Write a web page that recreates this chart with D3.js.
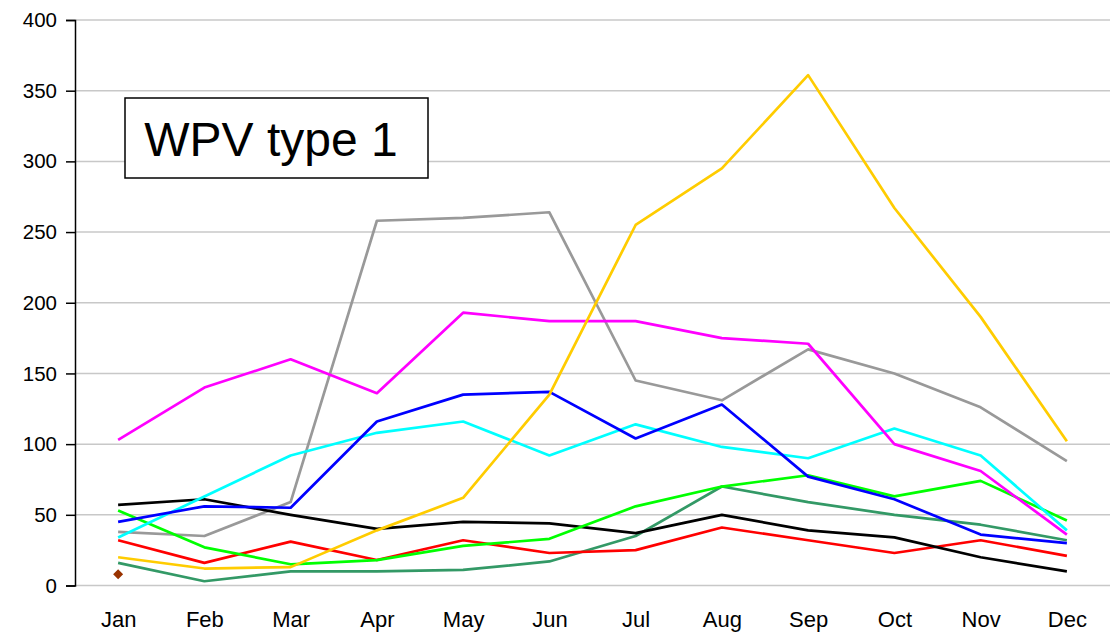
<!DOCTYPE html>
<html>
<head>
<meta charset="utf-8">
<script src="https://cdn.jsdelivr.net/npm/d3@7"></script>
<style>
  html, body { margin: 0; padding: 0; background: #fff; }
  #chart { width: 1110px; height: 634px; }
  text { font-family: "Liberation Sans", Arial, sans-serif; }
</style>
</head>
<body>
<div id="chart"></div>
<script>
// --- Data ---
const months = ['Jan', 'Feb', 'Mar', 'Apr', 'May', 'Jun', 'Jul', 'Aug', 'Sep', 'Oct', 'Nov', 'Dec'];
const yTicks = [0, 50, 100, 150, 200, 250, 300, 350, 400];

const magenta   = [103, 140, 160, 136, 193, 187, 187, 175, 171, 100, 81, 36];
const yellow    = [20, 12, 13, 39, 62, 135, 255, 295, 361, 267, 190, 102];
const gray      = [38, 35, 59, 258, 260, 264, 145, 131, 167, 150, 126, 88];
const blue      = [45, 56, 55, 116, 135, 137, 104, 128, 77, 61, 36, 30];
const cyan      = [34, 63, 92, 108, 116, 92, 114, 98, 90, 111, 92, 39];
const green     = [53, 27, 15, 18, 28, 33, 56, 70, 78, 63, 74, 46];
const darkGreen = [16, 3, 10, 10, 11, 17, 35, 70, 59, 50, 43, 32];
const black     = [57, 61, 50, 40, 45, 44, 37, 50, 39, 34, 20, 10];
const red       = [32, 16, 31, 18, 32, 23, 25, 41, 32, 23, 32, 21];
const brownPoints = [{ month: 'Jan', value: 8 }];

const series = [
    { values: gray, color: '#999999' },
    { values: darkGreen, color: '#339966' },
    { values: red, color: '#ff0000' },
    { values: black, color: '#000000' },
    { values: green, color: '#00ff00' },
    { values: cyan, color: '#00ffff' },
    { values: blue, color: '#0000ff' },
    { values: magenta, color: '#ff00ff' },
    { values: yellow, color: '#ffcc00' }
];

// --- Layout ---
const W = 1110, H = 634;
const margin = { top: 20, right: 0, bottom: 48.5, left: 75 };
const width = W - margin.left - margin.right;
const height = H - margin.top - margin.bottom;

const svg = d3.select('#chart').append('svg')
    .attr('width', W)
    .attr('height', H)
    .append('g')
    .attr('transform', `translate(${margin.left},${margin.top})`);

const x = d3.scalePoint().domain(months).range([0, width]).padding(0.5);
const y = d3.scaleLinear().domain([0, 400]).range([height, 0]);

// --- Gridlines ---
svg.append('g')
    .selectAll('line')
    .data(yTicks)
    .enter().append('line')
    .attr('x1', 0).attr('x2', width)
    .attr('y1', d => y(d)).attr('y2', d => y(d))
    .attr('stroke', '#c8c8c8')
    .attr('stroke-width', 1.5);

// --- Y axis ---
const yAxis = svg.append('g')
    .call(d3.axisLeft(y).tickValues(yTicks).tickSize(9).tickPadding(9));
yAxis.select('.domain').attr('stroke', '#000').attr('stroke-width', 1.5);
yAxis.selectAll('.tick line').attr('stroke', '#000').attr('stroke-width', 1.5);
yAxis.selectAll('.tick text')
    .attr('font-size', '20.5px')
    .attr('fill', '#000')
    .attr('font-family', '"Liberation Sans", Arial, sans-serif');

// --- X axis labels ---
const xAxis = svg.append('g')
    .attr('transform', `translate(0,${height})`)
    .call(d3.axisBottom(x).tickSize(0).tickPadding(26));
xAxis.select('.domain').remove();
xAxis.selectAll('.tick text')
    .attr('font-size', '22px')
    .attr('fill', '#000')
    .attr('font-family', '"Liberation Sans", Arial, sans-serif');

// --- Lines ---
const line = d3.line()
    .x((d, i) => x(months[i]))
    .y(d => y(d));

svg.selectAll('.series')
    .data(series)
    .enter().append('path')
    .attr('class', 'series')
    .attr('d', d => line(d.values))
    .attr('fill', 'none')
    .attr('stroke', d => d.color)
    .attr('stroke-width', 2.7)
    .attr('stroke-linejoin', 'round');

// --- Lone marker ---
svg.selectAll('.diamond')
    .data(brownPoints)
    .enter().append('path')
    .attr('class', 'diamond')
    .attr('d', d3.symbol().type(d3.symbolDiamond2).size(64))
    .attr('transform', d => `translate(${x(d.month)},${y(d.value)})`)
    .attr('fill', '#993300');

// --- Label box ---
const boxX = 125 - margin.left, boxY = 98 - margin.top;
svg.append('rect')
    .attr('x', boxX)
    .attr('y', boxY)
    .attr('width', 303)
    .attr('height', 80)
    .attr('fill', '#fff')
    .attr('stroke', '#000')
    .attr('stroke-width', 1.5);

svg.append('text')
    .attr('x', boxX + 146)
    .attr('y', boxY + 58)
    .attr('text-anchor', 'middle')
    .attr('font-size', '48px')
    .attr('fill', '#000')
    .text('WPV type 1');
</script>
</body>
</html>
